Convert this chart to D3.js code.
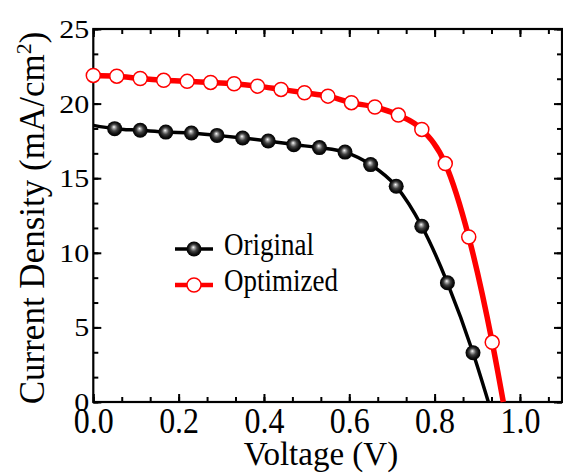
<!DOCTYPE html>
<html>
<head>
<meta charset="utf-8">
<script src="https://cdn.jsdelivr.net/npm/d3@7"></script>
<style>
  body { margin: 0; background: #fff; }
  text { font-family: "Liberation Serif", "Times New Roman", serif; fill: #000; }
</style>
</head>
<body>
<div id="chart"></div>
<script>
// J-V data
const voltOrig = [0.05, 0.11, 0.17, 0.23, 0.29, 0.35, 0.41, 0.47, 0.53, 0.59, 0.65, 0.71, 0.77, 0.83, 0.89];
const jOrig    = [18.32, 18.21, 18.09, 18.03, 17.87, 17.69, 17.49, 17.25, 17.05, 16.75, 15.91, 14.46, 11.78, 7.99, 3.30];
const voltOpt  = [0, 0.055, 0.11, 0.165, 0.22, 0.275, 0.33, 0.385, 0.44, 0.495, 0.55, 0.605, 0.66, 0.715, 0.77, 0.825, 0.88, 0.935];
const jOpt     = [21.89, 21.84, 21.68, 21.56, 21.49, 21.42, 21.33, 21.17, 20.95, 20.73, 20.50, 20.06, 19.77, 19.23, 18.27, 15.98, 11.06, 4.00];
const jscOrig = 18.54, vocOrig = 0.926;
const vocOpt = 0.961;

const xMajor = [0, 0.2, 0.4, 0.6, 0.8, 1.0];
const yMajor = [0, 5, 10, 15, 20, 25];
const seriesNames = ["Original", "Optimized"];

const w = 563, h = 475;

const svg = d3.select("#chart").append("svg")
  .attr("width", w)
  .attr("height", h);

const x = d3.scaleLinear().domain([0, 1.1]).range([93.3, 562.6]);
const y = d3.scaleLinear().domain([0, 25]).range([402, 29]);

const xMinor = d3.range(0, 1.1, 0.2 / 3);
const yMinor = d3.range(0, 25.01, 5 / 3);

// gradient for the shiny black balls
const defs = svg.append("defs");
const grad = defs.append("radialGradient")
  .attr("id", "ball")
  .attr("cx", "50%").attr("cy", "50%").attr("r", "50%")
  .attr("fx", "45%").attr("fy", "38%");
grad.append("stop").attr("offset", "0%").attr("stop-color", "#fff");
grad.append("stop").attr("offset", "18%").attr("stop-color", "#aaa");
grad.append("stop").attr("offset", "45%").attr("stop-color", "#444");
grad.append("stop").attr("offset", "75%").attr("stop-color", "#111");
grad.append("stop").attr("offset", "100%").attr("stop-color", "#000");

// axes: ticks inward on all four sides
function tickAxis(axisFn, scale, vals, size, pos, labelled) {
  const a = axisFn(scale).tickValues(vals).tickSize(size).tickSizeOuter(0);
  if (!labelled) a.tickFormat("");
  const g = svg.append("g").attr("transform", pos).call(a);
  g.select(".domain").remove();
  g.selectAll(".tick line").attr("stroke", "#000").attr("stroke-width", 2);
  return g;
}

tickAxis(d3.axisBottom, x, xMinor, -5, "translate(0,402)", false);
const xAxisG = tickAxis(d3.axisBottom, x, xMajor, -8, "translate(0,402)", true)
  .attr("font-family", null).attr("font-size", null);
xAxisG.selectAll(".tick text")
  .text(d => d3.format(".1f")(d))
  .attr("x", null).attr("y", null).attr("dy", null)
  .attr("text-anchor", "middle")
  .style("font-size", "32px")
  .attr("transform", "translate(0,31) scale(1,1.12)");

tickAxis(d3.axisTop, x, xMinor, -5, "translate(0,29)", false);
tickAxis(d3.axisTop, x, xMajor, -8, "translate(0,29)", false);

tickAxis(d3.axisLeft, y, yMinor, -5, "translate(93.3,0)", false);
const yAxisG = tickAxis(d3.axisLeft, y, yMajor, -8, "translate(93.3,0)", true)
  .attr("font-family", null).attr("font-size", null);
yAxisG.selectAll(".tick text")
  .attr("x", null).attr("y", null).attr("dy", null)
  .attr("text-anchor", "end")
  .style("font-size", "25px")
  .attr("transform", "translate(-4,8.5) scale(1.2,1)");

tickAxis(d3.axisRight, y, yMinor, -5, "translate(562,0)", false);
tickAxis(d3.axisRight, y, yMajor, -8, "translate(562,0)", false);

// frame
svg.append("rect")
  .attr("x", x(0)).attr("y", y(25))
  .attr("width", x(1.1) - x(0) - 0.6).attr("height", y(0) - y(25))
  .attr("fill", "none").attr("stroke", "#000").attr("stroke-width", 2.2);

// curves
const line = d3.line()
  .x(d => x(d[0]))
  .y(d => y(d[1]))
  .curve(d3.curveMonotoneX);

const origPts = [[0, jscOrig]].concat(voltOrig.map((v, i) => [v, jOrig[i]]), [[vocOrig, 0]]);
const optPts = voltOpt.map((v, i) => [v, jOpt[i]]).concat([[vocOpt, 0]]);

svg.append("path")
  .datum(origPts)
  .attr("d", line)
  .attr("fill", "none")
  .attr("stroke", "#000")
  .attr("stroke-width", 3.5);

svg.append("path")
  .datum(optPts)
  .attr("d", line)
  .attr("fill", "none")
  .attr("stroke", "#ff0000")
  .attr("stroke-width", 5.5);

svg.selectAll(".ball")
  .data(voltOrig)
  .enter()
  .append("circle")
  .attr("class", "ball")
  .attr("cx", d => x(d))
  .attr("cy", (d, i) => y(jOrig[i]))
  .attr("r", 7.5)
  .attr("fill", "url(#ball)");

svg.selectAll(".ring")
  .data(voltOpt)
  .enter()
  .append("circle")
  .attr("class", "ring")
  .attr("cx", d => x(d))
  .attr("cy", (d, i) => y(jOpt[i]))
  .attr("r", 7)
  .attr("fill", "#fff")
  .attr("stroke", "#ff0000")
  .attr("stroke-width", 1.5);

// legend
const leg = svg.append("g");
const legY = [249, 285];
legY.forEach((ly, i) => {
  leg.append("line")
    .attr("x1", 175).attr("x2", 213)
    .attr("y1", ly).attr("y2", ly)
    .attr("stroke", i == 0 ? "#000" : "#ff0000")
    .attr("stroke-width", i == 0 ? 3.5 : 4.5);
  if (i == 0) {
    leg.append("circle").attr("cx", 194).attr("cy", ly).attr("r", 7.5).attr("fill", "url(#ball)");
  } else {
    leg.append("circle").attr("cx", 194).attr("cy", ly).attr("r", 7)
      .attr("fill", "#fff").attr("stroke", "#ff0000").attr("stroke-width", 1.5);
  }
  leg.append("text")
    .attr("transform", "translate(224," + (ly + 6) + ") scale(1,1.2)")
    .style("font-size", "27px")
    .text(seriesNames[i]);
});

// axis titles
svg.append("text")
  .attr("x", 321).attr("y", 465)
  .attr("text-anchor", "middle")
  .style("font-size", "33px")
  .text("Voltage (V)");

const yt = svg.append("text")
  .attr("transform", "translate(44,218) rotate(-90)")
  .attr("text-anchor", "middle")
  .style("font-size", "35px");
yt.append("tspan").text("Current Density (mA/cm");
yt.append("tspan").attr("dy", -13).style("font-size", "22px").text("2");
yt.append("tspan").attr("dy", 13).text(")");
</script>
</body>
</html>
